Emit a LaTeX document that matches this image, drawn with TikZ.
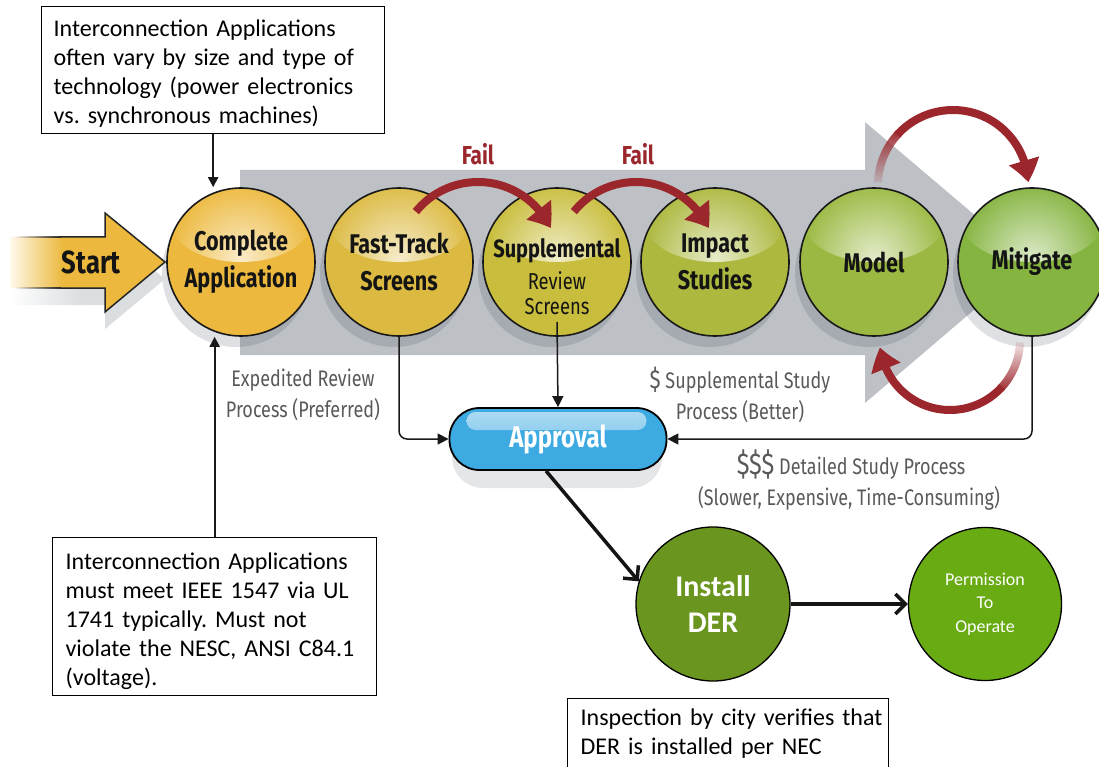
\documentclass[tikz,border=0pt]{standalone}
\usepackage{fontspec}
\setmainfont{Carlito}
\newfontfamily\myr[FakeStretch=0.8]{Fira Sans}
\usetikzlibrary{arrows.meta,bending,fadings,calc}
\frenchspacing
\definecolor{cApp}{RGB}{236,185,62}
\definecolor{cFast}{RGB}{220,186,66}
\definecolor{cSup}{RGB}{200,189,60}
\definecolor{cImp}{RGB}{172,184,62}
\definecolor{cMod}{RGB}{155,185,66}
\definecolor{cMit}{RGB}{133,180,64}
\definecolor{cGrayA}{RGB}{189,193,198}
\definecolor{cRed}{RGB}{155,38,43}
\definecolor{cBlue}{RGB}{62,170,226}
\definecolor{cInst}{RGB}{106,150,31}
\definecolor{cPerm}{RGB}{105,171,19}
\definecolor{cTxt}{RGB}{88,89,91}
\definecolor{cShad}{RGB}{40,50,65}
\tikzfading[name=fadeup, bottom color=transparent!100, top color=transparent!0]
\tikzfading[name=fadedown, top color=transparent!100, bottom color=transparent!0]
\tikzfading[name=fadein, left color=transparent!100, right color=transparent!0]
\pgfdeclarehorizontalshading{startsh}{100bp}{rgb(0bp)=(1,1,1); rgb(25bp)=(1,0.98,0.92); rgb(42bp)=(0.925,0.725,0.243); rgb(100bp)=(0.925,0.725,0.243)}
\pgfdeclarehorizontalshading{startshad}{100bp}{rgb(0bp)=(1,1,1); rgb(25bp)=(1,1,1); rgb(48bp)=(0.86,0.87,0.88); rgb(100bp)=(0.86,0.87,0.88)}
\tikzset{
  ball/.style={circle, draw=black!90, line width=1.6pt, minimum size=148pt, inner sep=0pt, fill=#1,
    path picture={\shade[inner color=white!72!#1, outer color=#1] ([yshift=40pt]path picture bounding box.center) ellipse (70pt and 40pt);},
    font=\myr\bfseries\fontsize{27}{37}\selectfont, align=center, text=black!92},
  shad/.style={fill=cShad, opacity=.15},
  redline/.style={draw=cRed, line width=8pt},
  redarc/.style={redline, -{Triangle[length=22pt,width=30pt,bend]}},
  conn/.style={draw=black!90, line width=1.5pt, -{Triangle[length=11pt,width=11pt]}, rounded corners=8pt},
  boxarr/.style={draw=black!90, line width=2pt, -{Triangle[length=10pt,width=10pt]}},
  bigarr/.style={draw=black!92, line width=3.5pt, -{Straight Barb[length=10pt,width=20pt]}},
  notebox/.style={draw=black, line width=1.3pt, fill=white, align=left, inner xsep=12pt, inner ysep=0pt, anchor=north west, font=\fontsize{24}{29}\selectfont},
  glbl/.style={text=cTxt, font=\myr\fontsize{22.5}{31}\selectfont, align=center},
  faillbl/.style={text=cRed, font=\myr\bfseries\fontsize{26}{30}\selectfont}
}
\begin{document}
\begin{tikzpicture}[x=1pt,y=1pt]
\useasboundingbox (0,0) rectangle (1099,-767);
\clip (0,0) rectangle (1099,-767);
% big gray process arrow
\fill[cGrayA] (240,-170) -- (865,-170) -- (865,-122) -- (1030,-262) -- (865,-403) -- (865,-355) -- (240,-355) -- cycle;
% shadows
\foreach \x in {241,399,557,715,874,1032} \fill[shad] (\x-5,-273) circle (74);
\shade[shading=startshad] (10,-254) -- (105,-254) -- (105,-230) -- (165,-279) -- (105,-329) -- (105,-305) -- (10,-305) -- cycle;
% start arrow
\shade[shading=startsh] (10,-237) -- (105,-237) -- (105,-213) -- (165,-262) -- (105,-312) -- (105,-288) -- (10,-288) -- cycle;
\draw[line width=1.5pt, black!85] (60,-237) -- (105,-237) -- (105,-213) -- (165,-262) -- (105,-312) -- (105,-288) -- (60,-288);
\draw[line width=1.5pt, black!85, path fading=fadein] (15,-237) -- (61,-237) (15,-288) -- (61,-288);
\node[font=\myr\bfseries\fontsize{32}{36}\selectfont, text=black!92] (startL) at (91,-262) {Start};
% circles
\node[ball=cApp] (app) at (241,-262) {Complete\\Application};
\node[ball=cFast] (fast) at (399,-262) {Fast-Track\\Screens};
\node[ball=cSup] (supp) at (557,-262) {};
\node[ball=cImp] (imp) at (715,-262) {Impact\\Studies};
\node[ball=cMod] (mod) at (874,-262) {Model};
\node[ball=cMit] (mit) at (1032,-262) {Mitigate};
\node[anchor=base, font=\myr\bfseries\fontsize{25}{28}\selectfont, text=black!92] (suppL1) at (557,-257) {Supplemental};
\node[anchor=base, font=\myr\fontsize{23}{25}\selectfont, text=black!92] (suppL2) at (557,-289) {Review};
\node[anchor=base, font=\myr\fontsize{23}{25}\selectfont, text=black!92] (suppL3) at (557,-314) {Screens};
% red fail / loop arcs
\coordinate (f1) at (478,-262);
\coordinate (f2) at (636,-262);
\coordinate (mc) at (953,-185);
\coordinate (bc) at (950,-340);
\draw[redarc] (f1) ++(141:80) arc (141:25:80);
\draw[redarc] (f2) ++(141:80) arc (141:25:80);
\draw[redline, path fading=fadeup] (mc) ++(178:75) arc (178:136:75);
\draw[redarc] (mc) ++(138:75) arc (138:2:75);
\draw[redline, path fading=fadedown] (bc) ++(-2:70) arc (-2:-44:70);
\draw[redarc] (bc) ++(-42:70) arc (-42:-174:70);
\node[faillbl] (fail1) at (478,-154) {Fail};
\node[faillbl] (fail2) at (638,-154) {Fail};
% gray labels
\node[glbl] (expL) at (303,-395) {Expedited Review\\Process (Preferred)};
\node[glbl] (supS) at (740,-395) {{\fontsize{26}{31}\selectfont\$} Supplemental Study\\Process (Better)};
\node[glbl, anchor=base] (detL1) at (851,-474) {{\fontsize{30}{31}\selectfont\$\$\$} Detailed Study Process};
\node[glbl, anchor=base] (detL2) at (849,-505) {(Slower, Expensive, Time-Consuming)};
% approval
\fill[fill=cShad, opacity=.12, rounded corners=31pt] (452,-424) rectangle (662,-488);
\node[draw=black, line width=1.8pt, fill=cBlue, rounded corners=30pt, minimum width=217pt, minimum height=62pt, inner sep=0pt, text=white, font=\myr\bfseries\fontsize{30}{34}\selectfont,
  path picture={\shade[top color=white!60!cBlue, bottom color=white!15!cBlue, rounded corners=9pt] ([xshift=17pt,yshift=-4pt]path picture bounding box.north west) rectangle ([xshift=-20pt,yshift=-22pt]path picture bounding box.north east);}] (appr) at (558,-439) {Approval};
\draw[conn] (fast.south) |- (appr.west);
\draw[conn] ([yshift=-60pt]supp.center) -- (appr.north);
\draw[conn] (mit.south) |- (appr.east);
% install / permission
\node[circle, draw=black, line width=1.3pt, fill=cInst, minimum size=154pt, inner sep=0pt, text=white, align=center, font=\bfseries\fontsize{30}{36}\selectfont] (inst) at (713,-604) {Install\\DER};
\node[circle, draw=black, line width=1.3pt, fill=cPerm, minimum size=153pt, inner sep=0pt, text=white, align=center, font=\fontsize{18}{23.5}\selectfont] (perm) at (985,-604) {Permission\\To\\Operate};
\draw[bigarr] ([xshift=-12pt]appr.south) -- (inst.163);
\draw[bigarr] (inst.east) -- (perm.west);
% note boxes
\node[notebox, text width=319pt, minimum height=127pt] (nb1) at (41,-6) {\rule{0pt}{24pt}\mbox{Interconnection Applications}\\\mbox{often vary by size and type of}\\\mbox{technology (power electronics}\\\mbox{vs. synchronous machines)}};
\node[notebox, inner xsep=13pt, text width=298pt, minimum height=158pt] (nb2) at (52,-537) {\rule{0pt}{25pt}\mbox{Interconnection Applications}\\\mbox{must meet IEEE 1547 via UL}\\\mbox{1741 typically. Must not}\\\mbox{violate the NESC, ANSI C84.1}\\\mbox{(voltage).}};
\node[notebox, inner xsep=13pt, inner ysep=10pt, text width=295pt] (nb3) at (567,-698) {\mbox{Inspection by city verifies that}\\\mbox{DER is installed per NEC}};
\draw[boxarr] (nb1.south) -- (nb1.south |- app.north);
\draw[boxarr] (nb2.north) -- (nb2.north |- app.south);
\end{tikzpicture}
\end{document}
